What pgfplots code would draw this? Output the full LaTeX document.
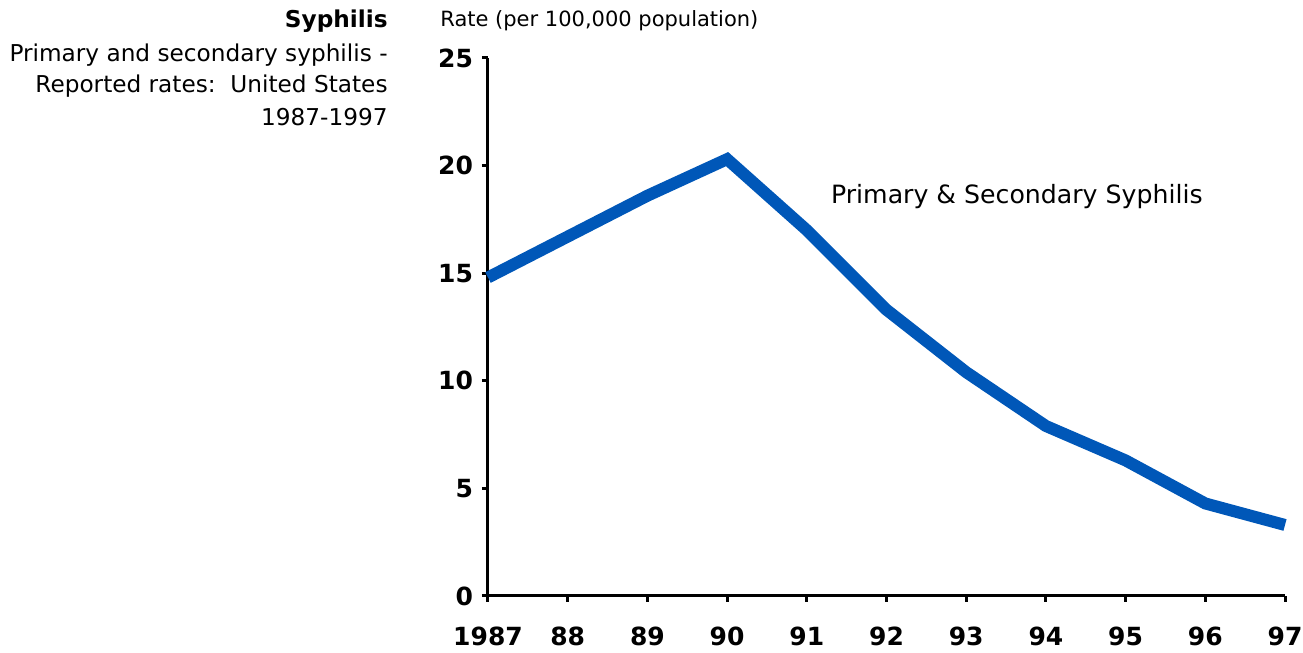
\documentclass[border=0pt]{standalone}
\usepackage{fontspec}
\setmainfont{DejaVu Sans}
\usepackage{pgfplots}
\pgfplotsset{compat=1.18}
\definecolor{lineblue}{RGB}{0,87,184}
\begin{document}
\begin{tikzpicture}[x=1pt,y=1pt]
\begin{axis}[
  at={(0,0)}, anchor=south west,
  scale only axis, width=398.5pt, height=269pt,
  xmin=0, xmax=10, ymin=0, ymax=25,
  axis x line=bottom, axis y line=left,
  axis line style={-, line width=1.5pt, black},
  every tick/.style={line width=1.5pt, black},
  tick align=outside, major tick length=3pt,
  xtick={0,1,...,10},
  xticklabels={1987,88,89,90,91,92,93,94,95,96,97},
  ytick={0,5,...,25},
  /pgf/number format/assume math mode=true,
  ticklabel style={font=\bfseries\fontsize{12.5}{14}\selectfont},
  xticklabel style={yshift=-9pt},
  yticklabel style={xshift=-1pt},
  clip=false,
]
\addplot[lineblue, line width=6pt, line join=miter] coordinates {
  (0,14.8) (1,16.7) (2,18.6) (3,20.3) (4,17.0) (5,13.3)
  (6,10.4) (7,7.9) (8,6.3) (9,4.3) (10,3.3)
};
\node[anchor=west, inner sep=0pt, font=\fontsize{12.6}{14}\selectfont] at (axis cs:4.3,18.54) {Primary \& Secondary Syphilis};
\end{axis}
\begin{scope}[every node/.style={inner sep=0pt}]
\node[anchor=east, font=\bfseries\fontsize{11.6}{13}\selectfont] at (-50,287.5) {Syphilis};
\node[anchor=east, font=\fontsize{11.6}{13}\selectfont] at (-50,270.5) {Primary and secondary syphilis -};
\node[anchor=east, font=\fontsize{11.6}{13}\selectfont] at (-50,255) {Reported rates:\ \ United States};
\node[anchor=east, font=\fontsize{11.6}{13}\selectfont] at (-50,239.5) {1987-1997};
\node[anchor=west, font=\fontsize{10.5}{12}\selectfont] at (-24,287.5) {Rate (per 100,000 population)};
\end{scope}
\pgfresetboundingbox
\path (-244,-28.5) rectangle (407.5,298);
\end{tikzpicture}
\end{document}
